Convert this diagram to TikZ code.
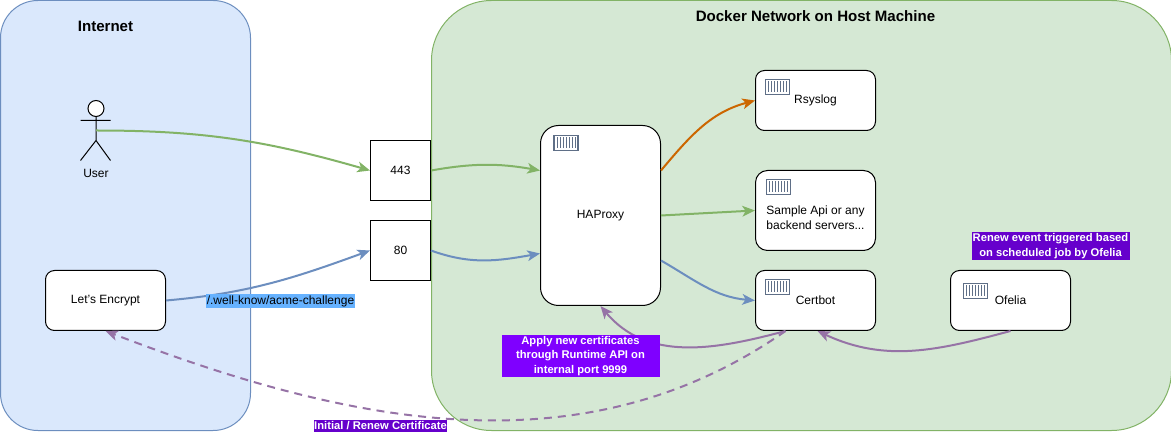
\documentclass[tikz,border=0pt]{standalone}
\usepackage{fontspec}
\setmainfont{Liberation Sans}
\usetikzlibrary{arrows.meta, positioning}
\definecolor{internetfill}{HTML}{DAE8FC}
\definecolor{internetline}{HTML}{6C8EBF}
\definecolor{dockerfill}{HTML}{D5E8D4}
\definecolor{dockerline}{HTML}{82B366}
\definecolor{flowgreen}{HTML}{82B366}
\definecolor{flowblue}{HTML}{6C8EBF}
\definecolor{floworange}{HTML}{CC6600}
\definecolor{flowpurple}{HTML}{9673A6}
\definecolor{noteviolet}{HTML}{7F00FF}
\definecolor{notedeep}{HTML}{6600CC}
\definecolor{noteblue}{HTML}{66B2FF}
\definecolor{iconline}{HTML}{5F6F87}
\tikzset{
	panel/.style={
		rectangle,
		draw,
		line width=.75pt,
		minimum height=322.5pt
	},
	port/.style={
		rectangle,
		draw=black,
		fill=white,
		line width=.75pt,
		minimum width=45pt,
		minimum height=45pt,
		font=\fontsize{9}{11}\selectfont
	},
	service/.style={
		rectangle,
		rounded corners=6.75pt,
		draw=black,
		fill=white,
		line width=.75pt,
		minimum width=90pt,
		minimum height=45pt,
		font=\fontsize{9}{11}\selectfont
	},
	plain/.style={
		inner sep=0pt,
		align=center,
		font=\fontsize{9}{11.25}\selectfont
	},
	heading/.style={
		inner sep=0pt,
		font=\bfseries\fontsize{11.3}{13}\selectfont
	},
	note/.style={
		inner xsep=.5pt,
		inner ysep=1pt,
		align=center,
		text=white,
		font=\bfseries\fontsize{8.4}{10.8}\selectfont
	},
	arrow/.style={
		-{Stealth[length=9.5pt,width=8pt,inset=2.5pt]},
		line width=1.5pt
	},
	containericon/.pic={
		\draw [iconline, fill=white, line width=1pt] (-12,-7.5) rectangle (12,7.5);
		\foreach \i in {-9,-6,...,9}
			\draw [iconline, line width=.5pt] (\i,-5.5) -- (\i,5.5);
	}
}
\begin{document}
\begin{tikzpicture}[x=.75pt, y=-.75pt]
		\useasboundingbox (-.5,-.5) rectangle (1170.5,440.5);
		
		% panels
		\node (internet) [panel, rounded corners=28pt, draw=internetline, fill=internetfill, minimum width=187.5pt] at (125,215) {};
		\node (docker)   [panel, rounded corners=45pt, draw=dockerline, fill=dockerfill, minimum width=555pt] at (801,215) {};
		\node (internettitle) [heading] at (105,26) {Internet};
		\node (dockertitle)   [heading] at (815,16) {Docker Network on Host Machine};
		
		% actor
		\coordinate (user) at (95.5,130);
		\draw [line width=.75pt, fill=white] (95.5,108) circle (6pt);
		\draw [line width=.75pt] (95.5,116) -- (95.5,140) (80,120) -- (110,120) (80,160) -- (95.5,140) -- (110,160);
		\node (userlabel) [plain] at (95.5,173) {User};
		
		% nodes
		\node (lets)    [service] at (105,300) {Let's Encrypt};
		\node (p443)    [port] at (400,170) {443};
		\node (p80)     [port] at (400,250) {80};
		\node (haproxy) [service, rounded corners=13.5pt, minimum height=135pt] at (600,215) {HAProxy};
		\node (rsyslog) [service] at (815,100) {Rsyslog};
		\node (sample)  [service, rounded corners=9pt, minimum height=60pt] at (815,210) {};
		\node (samplelabel) [plain] at (815,217.5) {Sample Api or any\\backend servers...};
		\node (certbot) [service] at (815,300) {Certbot};
		\node (ofelia)  [service] at (1010,300) {Ofelia};
		
		% icons
		\pic at (565.5,142.5) {containericon};
		\pic at (777,86.5) {containericon};
		\pic at (778,186.5) {containericon};
		\pic at (777,286.5) {containericon};
		\pic at (975,290.5) {containericon};
		
		% incoming traffic
		\draw [arrow, flowgreen] (user) to [out=0, in=164] (p443.west);
		\draw [arrow, flowblue] (lets.east) to [out=5, in=200] (p80.west);
		\draw [arrow, flowgreen] (p443.east) to [out=10, in=170] ([yshift=33.75pt]haproxy.west);
		\draw [arrow, flowblue] (p80.east) to [out=-20, in=190] ([yshift=-28.5pt]haproxy.west);
		
		% haproxy to backends
		\draw [arrow, floworange] ([yshift=33.75pt]haproxy.east) to [out=50, in=195] (rsyslog.west);
		\draw [arrow, flowgreen] (haproxy.east) -- (sample.west);
		\draw [arrow, flowblue] ([yshift=-33.75pt]haproxy.east) to [out=-30, in=175] (certbot.west);
		
		% certificates
		\draw [arrow, flowpurple] ([xshift=-22.5pt]certbot.south) to [out=195, in=-50] (haproxy.south);
		\draw [arrow, flowpurple] (ofelia.south) to [out=195, in=-25] ([xshift=1.5pt]certbot.south);
		\draw [arrow, flowpurple, dash pattern=on 6pt off 4.5pt] ([xshift=-22.5pt]certbot.south) to [out=215, in=-21, looseness=.95] (lets.south);
		
		% annotations
		\node (challenge) [note, fill=noteblue, text=black, font=\fontsize{9}{11}\selectfont] at (280,300.5) {/.well-know/acme-challenge};
		\node (applynote) [note, fill=noteviolet, minimum width=118.5pt] at (580,355.5) {Apply new certificates\\through Runtime API on\\internal port 9999};
		\node (renewnote) [note, fill=notedeep, minimum width=118.5pt] at (1050,245.5) {Renew event triggered based\\on scheduled job by Ofelia};
		\node (initnote)  [note, fill=notedeep] at (380,425.5) {Initial / Renew Certificate};
		
	\end{tikzpicture}
\end{document}
